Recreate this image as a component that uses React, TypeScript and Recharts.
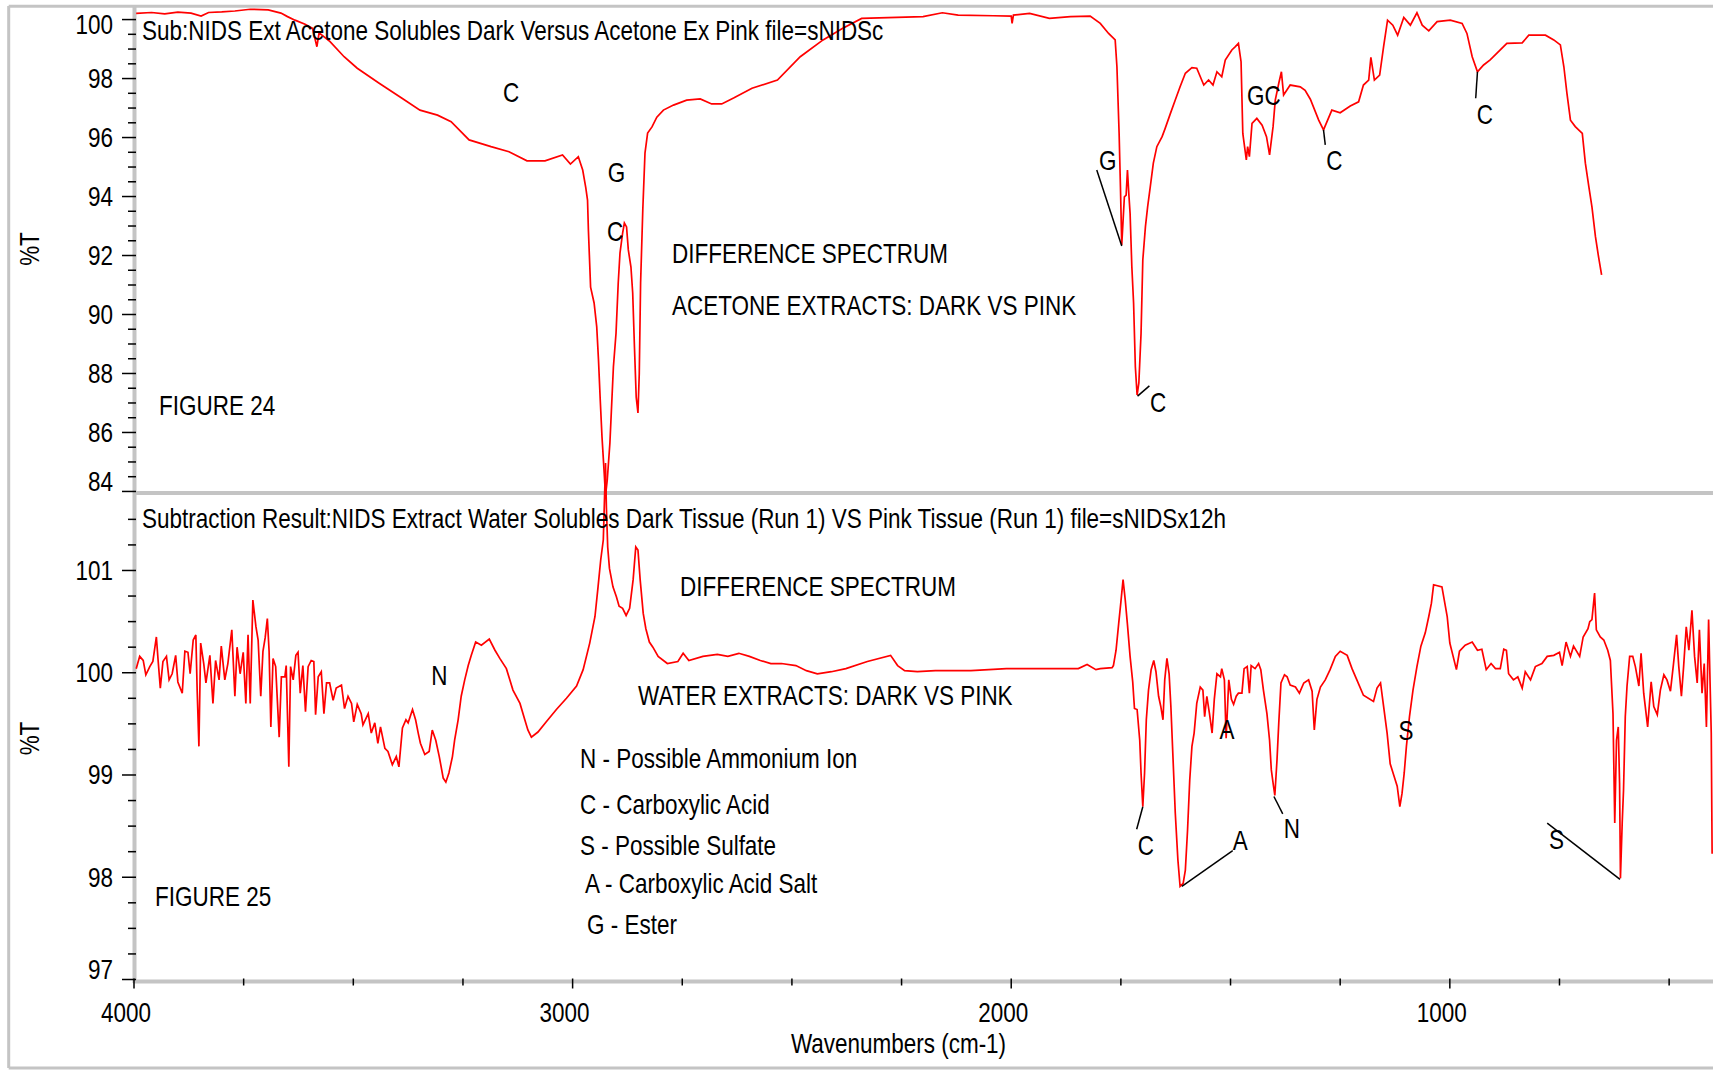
import React from 'react';
import { LineChart, Line, XAxis, YAxis, ReferenceLine, ReferenceDot } from 'recharts';

const FONT = "'Liberation Sans', Arial, sans-serif";
const FONT_SIZE = 27;
const SQUEEZE = 0.833;
const FRAME = '#c4c4c4';

// Figure 24: acetone extracts, dark vs pink (wavenumber, %T)
const acetoneWavenumbers = [
  3995, 3960, 3930, 3900, 3870, 3847, 3830, 3800, 3770, 3735, 3694, 3665, 3650, 3633, 3610, 3593,
  3583, 3578, 3553, 3521, 3491, 3441, 3389, 3348, 3308, 3277, 3236, 3186, 3145, 3104, 3063, 3023,
  3005, 2987, 2977, 2970, 2966, 2964, 2959, 2951, 2945, 2941, 2937, 2933, 2928, 2925, 2921, 2915,
  2907, 2901, 2896, 2892, 2886, 2882, 2877, 2873, 2867, 2863, 2859, 2855, 2851, 2848, 2845, 2840,
  2835, 2829, 2819, 2808, 2793, 2770, 2740, 2709, 2683, 2660, 2633, 2591, 2533, 2481, 2429, 2385,
  2341, 2201, 2157, 2121, 2040, 2000, 1998, 1995, 1958, 1913, 1865, 1820, 1797, 1778, 1763, 1759,
  1754, 1751, 1748, 1742, 1738, 1735, 1732, 1729, 1725, 1721, 1717, 1713, 1709, 1704, 1700, 1694,
  1689, 1683, 1676, 1668, 1656, 1649, 1637, 1626, 1615, 1603, 1588, 1577, 1561, 1550, 1540, 1531,
  1520, 1512, 1497, 1489, 1482, 1476, 1472, 1464, 1461, 1457, 1451, 1440, 1428, 1418, 1411, 1403,
  1398, 1390, 1384, 1379, 1364, 1341, 1330, 1318, 1299, 1288, 1269, 1250, 1227, 1208, 1197, 1185,
  1180, 1172, 1160, 1151, 1142, 1130, 1119, 1105, 1090, 1075, 1063, 1048, 1029, 999, 972, 961,
  949, 937, 923, 908, 885, 870, 835, 820, 782, 763, 748, 740, 733, 725, 714, 698,
  691, 683, 676, 668, 661, 654,
];
const acetoneTransmittance = [
  100.21, 100.24, 100.19, 100.25, 100.22, 100.12, 100.24, 100.26, 100.29, 100.35, 100.33, 100.22, 100.1, 99.98, 99.84, 99.7,
  99.08, 99.55, 99.25, 98.74, 98.35, 97.84, 97.33, 96.93, 96.76, 96.54, 95.92, 95.69, 95.52, 95.21, 95.21, 95.41,
  95.1, 95.35, 94.9, 94.3, 93.88, 92.86, 90.93, 90.39, 89.58, 88.46, 87.1, 85.85, 84.63, 83.85, 84.39, 85.64,
  88.22, 89.37, 91.07, 92.08, 92.76, 93.1, 92.97, 92.19, 91.61, 90.73, 88.9, 87.2, 86.66, 88.01, 91.07, 93.54,
  95.47, 96.15, 96.36, 96.69, 96.93, 97.1, 97.27, 97.31, 97.14, 97.14, 97.34, 97.67, 97.95, 98.74, 99.31, 99.7,
  100.04, 100.1, 100.23, 100.15, 100.13, 100.12, 99.87, 100.15, 100.21, 100.04, 100.1, 100.12, 99.87, 99.53, 99.31, 98.4,
  96.14, 94.33, 92.36, 93.99, 94.05, 94.9, 94.12, 93.43, 91.62, 90.38, 88.23, 87.27, 87.68, 89.36, 91.85, 92.98,
  93.65, 94.33, 95.13, 95.69, 96.03, 96.31, 96.82, 97.27, 97.72, 98.18, 98.37, 98.35, 97.78, 97.95, 97.78, 98.23,
  98.06, 98.63, 98.97, 99.08, 99.19, 98.57, 96.14, 95.24, 95.69, 95.35, 96.48, 96.65, 96.42, 96.03, 95.41, 96.37,
  97.27, 97.84, 98.23, 97.44, 97.78, 97.72, 97.6, 97.3, 96.59, 96.26, 96.93, 96.84, 97.07, 97.21, 97.78, 97.95,
  98.72, 97.95, 98.12, 99.08, 99.98, 99.81, 99.47, 100.07, 99.81, 100.23, 99.81, 99.62, 99.93, 99.98, 99.87, 99.53,
  98.74, 98.23, 98.46, 98.63, 98.97, 99.19, 99.21, 99.47, 99.47, 99.31, 99.14, 98.4, 97.5, 96.59, 96.37, 96.14,
  95.13, 94.33, 93.65, 92.64, 91.96, 91.34,
];

// Figure 25: water extracts, dark vs pink (wavenumber, %T)
const waterWavenumbers = [
  3995, 3987, 3979, 3973, 3964, 3957, 3949, 3945, 3940, 3934, 3926, 3920, 3913, 3905, 3900, 3890,
  3884, 3877, 3872, 3865, 3859, 3856, 3852, 3848, 3841, 3836, 3827, 3820, 3814, 3806, 3801, 3793,
  3786, 3777, 3770, 3765, 3758, 3751, 3745, 3740, 3735, 3729, 3722, 3717, 3711, 3706, 3701, 3696,
  3692, 3688, 3683, 3677, 3669, 3664, 3656, 3653, 3647, 3643, 3637, 3631, 3626, 3621, 3615, 3609,
  3603, 3596, 3590, 3586, 3580, 3573, 3567, 3561, 3554, 3546, 3539, 3527, 3520, 3512, 3504, 3499,
  3491, 3482, 3478, 3466, 3459, 3451, 3444, 3438, 3428, 3421, 3411, 3402, 3396, 3388, 3380, 3375,
  3365, 3358, 3352, 3347, 3337, 3327, 3320, 3312, 3304, 3295, 3289, 3282, 3274, 3269, 3261, 3254,
  3246, 3238, 3231, 3221, 3208, 3190, 3177, 3166, 3151, 3136, 3120, 3109, 3102, 3094, 3079, 3060,
  3037, 3014, 2991, 2976, 2961, 2949, 2942, 2936, 2930, 2925, 2923, 2920, 2916, 2908, 2900, 2894,
  2886, 2878, 2870, 2862, 2856, 2851, 2846, 2839, 2833, 2825, 2817, 2805, 2784, 2760, 2748, 2735,
  2703, 2670, 2646, 2621, 2597, 2572, 2548, 2524, 2491, 2467, 2442, 2410, 2377, 2328, 2275, 2259,
  2243, 2214, 2173, 2133, 2092, 2051, 2011, 1970, 1929, 1888, 1847, 1827, 1807, 1797, 1770, 1767,
  1761, 1755, 1750, 1745, 1740, 1735, 1729, 1723, 1719, 1713, 1707, 1704, 1700, 1696, 1692, 1687,
  1681, 1675, 1670, 1664, 1659, 1654, 1650, 1645, 1640, 1636, 1631, 1626, 1620, 1615, 1608, 1603,
  1598, 1593, 1588, 1583, 1577, 1569, 1563, 1559, 1554, 1548, 1542, 1537, 1531, 1523, 1520, 1514,
  1510, 1504, 1498, 1493, 1487, 1482, 1474, 1469, 1462, 1457, 1453, 1444, 1436, 1431, 1425, 1417,
  1411, 1407, 1402, 1399, 1394, 1390, 1385, 1377, 1371, 1364, 1352, 1343, 1333, 1322, 1314, 1309,
  1303, 1295, 1284, 1273, 1261, 1250, 1234, 1223, 1212, 1197, 1174, 1166, 1158, 1151, 1143, 1136,
  1128, 1120, 1114, 1109, 1104, 1099, 1092, 1084, 1075, 1066, 1056, 1048, 1042, 1037, 1018, 1006,
  1000, 993, 985, 978, 965, 949, 937, 927, 917, 906, 896, 885, 877, 871, 866, 855,
  845, 835, 828, 816, 805, 790, 778, 763, 750, 744, 735, 725, 718, 704, 696, 685,
  681, 676, 670, 666, 657, 649, 640, 634, 628, 624, 620, 616, 613, 611, 607, 604,
  600, 596, 590, 583, 577, 569, 564, 558, 549, 541, 535, 527, 520, 512, 505, 497,
  490, 483, 478, 472, 467, 461, 455, 448, 442, 436, 431, 425, 420, 415, 410, 404,
  402,
];
const waterTransmittance = [
  100.04, 100.16, 100.12, 99.98, 100.06, 100.11, 100.35, 100.12, 99.85, 100.11, 100.16, 99.93, 99.99, 100.17, 99.91, 99.8,
  100.21, 100.2, 99.99, 100.32, 100.37, 99.83, 99.28, 100.29, 100.09, 99.9, 100.17, 99.7, 100.12, 99.93, 100.26, 99.93,
  100.09, 100.42, 99.77, 100.25, 99.99, 100.2, 99.7, 100.37, 99.7, 100.71, 100.45, 100.32, 99.77, 100.21, 100.34, 100.53,
  100.21, 99.47, 100.14, 100.06, 99.37, 99.96, 99.96, 100.07, 99.08, 100.06, 99.93, 100.17, 100.2, 99.8, 100.07, 99.62,
  100.06, 100.12, 100.11, 99.59, 99.96, 100.01, 99.6, 99.9, 99.9, 99.73, 99.85, 99.88, 99.65, 99.77, 99.7, 99.52,
  99.69, 99.6, 99.49, 99.6, 99.41, 99.51, 99.31, 99.47, 99.26, 99.23, 99.1, 99.18, 99.08, 99.46, 99.54, 99.51,
  99.64, 99.54, 99.41, 99.31, 99.2, 99.23, 99.44, 99.34, 99.18, 98.97, 98.93, 99.02, 99.18, 99.34, 99.54, 99.77,
  99.93, 100.07, 100.17, 100.3, 100.27, 100.33, 100.22, 100.14, 100.04, 99.83, 99.7, 99.54, 99.44, 99.37, 99.42, 99.52,
  99.64, 99.75, 99.87, 100.03, 100.29, 100.55, 100.84, 101.1, 101.3, 102.05, 101.62, 101.23, 101.02, 100.84, 100.74, 100.65,
  100.63, 100.56, 100.63, 100.91, 101.23, 101.2, 100.91, 100.58, 100.43, 100.3, 100.25, 100.16, 100.09, 100.11, 100.19, 100.12,
  100.16, 100.18, 100.16, 100.19, 100.16, 100.12, 100.09, 100.09, 100.07, 100.02, 99.99, 100.01, 100.04, 100.11, 100.17, 100.07,
  100.02, 100.01, 100.02, 100.02, 100.02, 100.03, 100.04, 100.04, 100.04, 100.04, 100.04, 100.08, 100.03, 100.04, 100.05, 100.07,
  100.22, 100.48, 100.69, 100.91, 100.71, 100.47, 100.16, 99.91, 99.65, 99.64, 99.34, 99.02, 98.69, 99.02, 99.54, 99.83,
  100.03, 100.12, 100.01, 99.77, 99.67, 99.54, 99.93, 100.14, 99.99, 99.67, 99.15, 98.63, 98.17, 97.91, 97.94, 98.07,
  98.46, 98.95, 99.28, 99.41, 99.7, 99.86, 99.83, 99.57, 99.77, 99.6, 99.41, 99.74, 99.99, 99.96, 100.04, 99.93,
  99.36, 99.93, 99.74, 99.69, 99.77, 99.8, 99.8, 100.04, 100.06, 99.8, 100.07, 100.04, 100.09, 100.03, 99.83, 99.6,
  99.34, 99.05, 98.89, 98.8, 99.15, 99.51, 99.9, 99.98, 99.96, 99.88, 99.86, 99.8, 99.9, 99.93, 99.82, 99.44,
  99.74, 99.86, 99.93, 100.03, 100.16, 100.21, 100.17, 100.04, 99.93, 99.78, 99.72, 99.85, 99.9, 99.67, 99.41, 99.11,
  99.0, 98.89, 98.69, 98.82, 99.02, 99.28, 99.57, 99.83, 100.06, 100.26, 100.39, 100.55, 100.68, 100.86, 100.84, 100.55,
  100.29, 100.17, 100.03, 100.21, 100.27, 100.3, 100.22, 100.23, 100.03, 100.09, 100.04, 100.04, 100.23, 100.22, 99.99, 99.93,
  99.96, 99.85, 100.01, 99.93, 100.06, 100.09, 100.16, 100.17, 100.2, 100.07, 100.3, 100.16, 100.26, 100.16, 100.35, 100.43,
  100.5, 100.52, 100.78, 100.42, 100.35, 100.32, 100.22, 100.12, 99.6, 98.53, 99.34, 99.47, 98.92, 97.99, 98.53, 98.85,
  99.57, 99.87, 100.16, 100.16, 100.06, 99.87, 100.19, 99.8, 99.47, 99.91, 99.67, 99.59, 99.83, 99.98, 99.93, 99.82,
  100.09, 100.37, 100.06, 99.77, 100.06, 100.45, 100.22, 100.61, 100.16, 99.9, 100.42, 99.8, 100.09, 99.47, 100.52, 99.41,
  98.23,
];

// Axis ticks
const xTicks = [4000, 3750, 3500, 3250, 3000, 2750, 2500, 2250, 2000, 1750, 1500, 1250, 1000, 750, 500];
const xTickLabels = [4000, 3000, 2000, 1000];
const topYTicks = [
  84, 84.5, 85, 85.5, 86, 86.5, 87, 87.5, 88, 88.5, 89, 89.5, 90, 90.5, 91, 91.5, 92,
  92.5, 93, 93.5, 94, 94.5, 95, 95.5, 96, 96.5, 97, 97.5, 98, 98.5, 99, 99.5, 100,
];
const topYLabels = [84, 86, 88, 90, 92, 94, 96, 98, 100];
const bottomYTicks = [97, 97.25, 97.5, 97.75, 98, 98.25, 98.5, 98.75, 99, 99.25, 99.5, 99.75, 100, 100.25, 100.5, 100.75, 101, 101.25, 101.5];
const bottomYLabels = [97, 98, 99, 100, 101];

// Band assignments placed next to the peaks (wavenumber, %T of the letter baseline)
const acetoneMarks = [
  { text: 'C', w: 3140, t: 97.2 },
  { text: 'G', w: 2900, t: 94.49 },
  { text: 'C', w: 2903, t: 92.49 },
  { text: 'G', w: 1780, t: 94.9 },
  { text: 'C', w: 1665, t: 86.69 },
  { text: 'GC', w: 1424, t: 97.1 },
  { text: 'C', w: 1263, t: 94.9 },
  { text: 'C', w: 920, t: 96.46 },
];
const acetoneLeaders = [
  { w1: 1805, t1: 94.9, w2: 1748, t2: 92.32 },
  { w1: 1712, t1: 87.23, w2: 1685, t2: 87.58 },
  { w1: 1288, t1: 96.26, w2: 1284, t2: 95.75 },
  { w1: 937, t1: 98.23, w2: 941, t2: 97.33 },
];
const waterMarks = [
  { text: 'N', w: 3304, t: 99.88 },
  { text: 'A', w: 1508, t: 99.35 },
  { text: 'C', w: 1693, t: 98.22 },
  { text: 'A', w: 1478, t: 98.27 },
  { text: 'N', w: 1360, t: 98.38 },
  { text: 'S', w: 1100, t: 99.34 },
  { text: 'S', w: 757, t: 98.28 },
];
const waterLeaders = [
  { w1: 1700, t1: 98.69, w2: 1714, t2: 98.47 },
  { w1: 1611, t1: 97.91, w2: 1495, t2: 98.26 },
  { w1: 1401, t1: 98.79, w2: 1381, t2: 98.62 },
  { w1: 778, t1: 98.53, w2: 612, t2: 97.98 },
];

const acetoneData = acetoneWavenumbers.map((w, i) => ({ w, t: acetoneTransmittance[i] }));
const waterData = waterWavenumbers.map((w, i) => ({ w, t: waterTransmittance[i] }));

// Condensed Arial-style text
function SqText({ x, y, anchor = 'start', rotate = false, children }: any) {
  const tf = `translate(${x},${y})${rotate ? ' rotate(-90)' : ''} scale(${SQUEEZE},1)`;
  return (
    <text transform={tf} textAnchor={anchor} fontFamily={FONT} fontSize={FONT_SIZE} fill="#000">
      {children}
    </text>
  );
}

const makeYTick = (labels: number[], shifts: Record<string, number>) => (props: any) => {
  const { x, y, payload } = props;
  const v = payload.value;
  const major = labels.includes(v);
  return (
    <g>
      <line x1={major ? x - 12 : x - 6} x2={x + 2} y1={y} y2={y} stroke="#000" strokeWidth={1.5} />
      {major && (
        <SqText x={x - 21} y={y + 9.5 + (shifts[String(v)] ?? 0)} anchor="end">
          {v}
        </SqText>
      )}
    </g>
  );
};

const XTick = (props: any) => {
  const { x, y, payload } = props;
  const major = xTickLabels.includes(payload.value);
  return (
    <g>
      <line x1={x} x2={x} y1={y - 1} y2={y + (major ? 9 : 6)} stroke="#000" strokeWidth={1.5} />
      {major && (
        <SqText x={x - 8} y={y + 42} anchor="middle">
          {payload.value}
        </SqText>
      )}
    </g>
  );
};

const letterShape = (text: string) => (p: any) => (
  <SqText x={p.cx} y={p.cy} anchor="middle">
    {text}
  </SqText>
);

export default function App() {
  return (
    <div style={{ position: 'absolute', left: 0, top: 0, width: 1713, height: 1070, background: '#fff', overflow: 'hidden' }}>
      {/* panel frames and axis bands */}
      <svg width={1713} height={1070} style={{ position: 'absolute', left: 0, top: 0 }}>
        <line x1={8.7} x2={8.7} y1={6} y2={1068} stroke={FRAME} strokeWidth={3} />
        <line x1={8.7} x2={1713} y1={1068} y2={1068} stroke={FRAME} strokeWidth={3} />
        <line x1={8.7} x2={1713} y1={6.3} y2={6.3} stroke={FRAME} strokeWidth={3} />
        <line x1={134} x2={1713} y1={493} y2={493} stroke={FRAME} strokeWidth={4} />
        <line x1={134.5} x2={134.5} y1={5} y2={983} stroke={FRAME} strokeWidth={4} />
        <line x1={133} x2={1713} y1={981.5} y2={981.5} stroke={FRAME} strokeWidth={4} />
      </svg>

      <div style={{ position: 'absolute', left: 0, top: 0 }}>
        <LineChart width={1713} height={520} data={acetoneData} margin={{ top: 6, right: 0, bottom: 19.7, left: 0 }}>
          <XAxis type="number" dataKey="w" domain={[400, 4000]} reversed hide allowDataOverflow />
          <YAxis
            type="number"
            domain={[83.7, 100.46]}
            allowDataOverflow
            ticks={topYTicks}
            interval={0}
            width={134}
            tickSize={0}
            tickMargin={0}
            axisLine={false}
            tickLine={false}
            tick={makeYTick(topYLabels, { '100': 4.5, '84': -10 })}
          />
          <Line type="linear" dataKey="t" stroke="#ff0000" strokeWidth={1.7} dot={false} isAnimationActive={false} />
          {acetoneLeaders.map((l, i) => (
            <ReferenceLine key={'al' + i} segment={[{ x: l.w1, y: l.t1 }, { x: l.w2, y: l.t2 }]} stroke="#000" strokeWidth={1.5} />
          ))}
          {acetoneMarks.map((m, i) => (
            <ReferenceDot key={'am' + i} x={m.w} y={m.t} r={0} shape={letterShape(m.text)} />
          ))}
        </LineChart>
      </div>

      <div style={{ position: 'absolute', left: 0, top: 0 }}>
        <LineChart width={1713} height={1070} data={waterData} margin={{ top: 458, right: 0, bottom: 30.5, left: 0 }}>
          <XAxis
            type="number"
            dataKey="w"
            domain={[400, 4000]}
            reversed
            allowDataOverflow
            ticks={xTicks}
            interval={0}
            height={60}
            tickSize={0}
            tickMargin={0}
            axisLine={false}
            tickLine={false}
            tick={XTick}
          />
          <YAxis
            type="number"
            domain={[97, 102.1]}
            allowDataOverflow
            ticks={bottomYTicks}
            interval={0}
            width={134}
            tickSize={0}
            tickMargin={0}
            axisLine={false}
            tickLine={false}
            tick={makeYTick(bottomYLabels, { '97': -10 })}
          />
          <Line type="linear" dataKey="t" stroke="#ff0000" strokeWidth={1.7} dot={false} isAnimationActive={false} />
          {waterLeaders.map((l, i) => (
            <ReferenceLine key={'wl' + i} segment={[{ x: l.w1, y: l.t1 }, { x: l.w2, y: l.t2 }]} stroke="#000" strokeWidth={1.5} />
          ))}
          {waterMarks.map((m, i) => (
            <ReferenceDot key={'wm' + i} x={m.w} y={m.t} r={0} shape={letterShape(m.text)} />
          ))}
        </LineChart>
      </div>

      {/* titles, figure captions, legend and axis titles */}
      <svg width={1713} height={1070} style={{ position: 'absolute', left: 0, top: 0, pointerEvents: 'none' }}>
        <SqText x={142} y={39.5}>Sub:NIDS Ext Acetone Solubles Dark Versus Acetone Ex Pink file=sNIDSc</SqText>
        <SqText x={672} y={263}>DIFFERENCE SPECTRUM</SqText>
        <SqText x={672} y={315}>ACETONE EXTRACTS: DARK VS PINK</SqText>
        <SqText x={159} y={415}>FIGURE 24</SqText>

        <SqText x={142} y={528}>Subtraction Result:NIDS Extract Water Solubles Dark Tissue (Run 1) VS Pink Tissue (Run 1) file=sNIDSx12h</SqText>
        <SqText x={680} y={596}>DIFFERENCE SPECTRUM</SqText>
        <SqText x={638} y={705}>WATER EXTRACTS: DARK VS PINK</SqText>
        <SqText x={580} y={767.5}>N - Possible Ammonium Ion</SqText>
        <SqText x={580} y={814}>C - Carboxylic Acid</SqText>
        <SqText x={580} y={855}>S - Possible Sulfate</SqText>
        <SqText x={585} y={893}>A - Carboxylic Acid Salt</SqText>
        <SqText x={587} y={934}>G - Ester</SqText>
        <SqText x={155} y={906}>FIGURE 25</SqText>

        <SqText x={39} y={249} anchor="middle" rotate>%T</SqText>
        <SqText x={39} y={738.5} anchor="middle" rotate>%T</SqText>
        <SqText x={898.5} y={1053} anchor="middle">Wavenumbers (cm-1)</SqText>
      </svg>
    </div>
  );
}
